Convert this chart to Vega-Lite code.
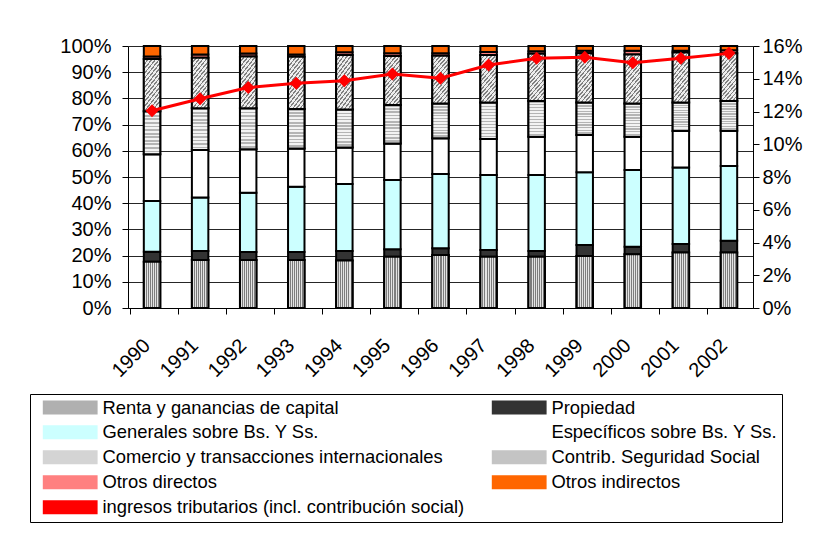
{
  "$schema": "https://vega.github.io/schema/vega-lite/v6.json",
  "width": 625,
  "height": 262,
  "autosize": {"type": "none"},
  "padding": {"left": 128, "top": 46, "right": 78, "bottom": 238},
  "background": "#ffffff",
  "config": {
    "font": "Liberation Sans",
    "view": {"stroke": null},
    "axis": {
      "labelFont": "Liberation Sans",
      "labelFontSize": 20,
      "labelColor": "#000000",
      "domainColor": "#000000",
      "tickColor": "#000000",
      "tickSize": 6,
      "title": null
    },
    "legend": {"symbolStrokeColor": "#000000", "symbolStrokeWidth": 2}
  },
  "datasets": {
    "barras": [
      {"anio": "1990", "serie": "Renta y ganancias de capital", "valor": 17.7},
      {"anio": "1990", "serie": "Propiedad", "valor": 3.8},
      {"anio": "1990", "serie": "Generales sobre Bs. Y Ss.", "valor": 19.3},
      {"anio": "1990", "serie": "Específicos sobre Bs. Y Ss.", "valor": 17.9},
      {"anio": "1990", "serie": "Comercio y transacciones internacionales", "valor": 16.4},
      {"anio": "1990", "serie": "Contrib. Seguridad Social", "valor": 19.9},
      {"anio": "1990", "serie": "Otros directos", "valor": 1.0},
      {"anio": "1990", "serie": "Otros indirectos", "valor": 4.0},
      {"anio": "1991", "serie": "Renta y ganancias de capital", "valor": 18.3},
      {"anio": "1991", "serie": "Propiedad", "valor": 3.5},
      {"anio": "1991", "serie": "Generales sobre Bs. Y Ss.", "valor": 20.4},
      {"anio": "1991", "serie": "Específicos sobre Bs. Y Ss.", "valor": 18.1},
      {"anio": "1991", "serie": "Comercio y transacciones internacionales", "valor": 15.9},
      {"anio": "1991", "serie": "Contrib. Seguridad Social", "valor": 19.3},
      {"anio": "1991", "serie": "Otros directos", "valor": 1.3},
      {"anio": "1991", "serie": "Otros indirectos", "valor": 3.2},
      {"anio": "1992", "serie": "Renta y ganancias de capital", "valor": 18.3},
      {"anio": "1992", "serie": "Propiedad", "valor": 3.1},
      {"anio": "1992", "serie": "Generales sobre Bs. Y Ss.", "valor": 22.6},
      {"anio": "1992", "serie": "Específicos sobre Bs. Y Ss.", "valor": 16.6},
      {"anio": "1992", "serie": "Comercio y transacciones internacionales", "valor": 15.6},
      {"anio": "1992", "serie": "Contrib. Seguridad Social", "valor": 19.8},
      {"anio": "1992", "serie": "Otros directos", "valor": 1.1},
      {"anio": "1992", "serie": "Otros indirectos", "valor": 2.9},
      {"anio": "1993", "serie": "Renta y ganancias de capital", "valor": 18.3},
      {"anio": "1993", "serie": "Propiedad", "valor": 3.1},
      {"anio": "1993", "serie": "Generales sobre Bs. Y Ss.", "valor": 24.9},
      {"anio": "1993", "serie": "Específicos sobre Bs. Y Ss.", "valor": 14.6},
      {"anio": "1993", "serie": "Comercio y transacciones internacionales", "valor": 15.1},
      {"anio": "1993", "serie": "Contrib. Seguridad Social", "valor": 19.9},
      {"anio": "1993", "serie": "Otros directos", "valor": 0.9},
      {"anio": "1993", "serie": "Otros indirectos", "valor": 3.2},
      {"anio": "1994", "serie": "Renta y ganancias de capital", "valor": 18.1},
      {"anio": "1994", "serie": "Propiedad", "valor": 3.7},
      {"anio": "1994", "serie": "Generales sobre Bs. Y Ss.", "valor": 25.5},
      {"anio": "1994", "serie": "Específicos sobre Bs. Y Ss.", "valor": 14.0},
      {"anio": "1994", "serie": "Comercio y transacciones internacionales", "valor": 14.5},
      {"anio": "1994", "serie": "Contrib. Seguridad Social", "valor": 20.8},
      {"anio": "1994", "serie": "Otros directos", "valor": 1.0},
      {"anio": "1994", "serie": "Otros indirectos", "valor": 2.4},
      {"anio": "1995", "serie": "Renta y ganancias de capital", "valor": 19.6},
      {"anio": "1995", "serie": "Propiedad", "valor": 2.8},
      {"anio": "1995", "serie": "Generales sobre Bs. Y Ss.", "valor": 26.5},
      {"anio": "1995", "serie": "Específicos sobre Bs. Y Ss.", "valor": 13.9},
      {"anio": "1995", "serie": "Comercio y transacciones internacionales", "valor": 14.7},
      {"anio": "1995", "serie": "Contrib. Seguridad Social", "valor": 18.7},
      {"anio": "1995", "serie": "Otros directos", "valor": 1.0},
      {"anio": "1995", "serie": "Otros indirectos", "valor": 2.8},
      {"anio": "1996", "serie": "Renta y ganancias de capital", "valor": 20.2},
      {"anio": "1996", "serie": "Propiedad", "valor": 2.6},
      {"anio": "1996", "serie": "Generales sobre Bs. Y Ss.", "valor": 28.3},
      {"anio": "1996", "serie": "Específicos sobre Bs. Y Ss.", "valor": 13.7},
      {"anio": "1996", "serie": "Comercio y transacciones internacionales", "valor": 13.3},
      {"anio": "1996", "serie": "Contrib. Seguridad Social", "valor": 18.2},
      {"anio": "1996", "serie": "Otros directos", "valor": 0.9},
      {"anio": "1996", "serie": "Otros indirectos", "valor": 2.8},
      {"anio": "1997", "serie": "Renta y ganancias de capital", "valor": 19.6},
      {"anio": "1997", "serie": "Propiedad", "valor": 2.5},
      {"anio": "1997", "serie": "Generales sobre Bs. Y Ss.", "valor": 28.7},
      {"anio": "1997", "serie": "Específicos sobre Bs. Y Ss.", "valor": 13.7},
      {"anio": "1997", "serie": "Comercio y transacciones internacionales", "valor": 13.9},
      {"anio": "1997", "serie": "Contrib. Seguridad Social", "valor": 18.2},
      {"anio": "1997", "serie": "Otros directos", "valor": 1.1},
      {"anio": "1997", "serie": "Otros indirectos", "valor": 2.3},
      {"anio": "1998", "serie": "Renta y ganancias de capital", "valor": 19.6},
      {"anio": "1998", "serie": "Propiedad", "valor": 2.2},
      {"anio": "1998", "serie": "Generales sobre Bs. Y Ss.", "valor": 29.0},
      {"anio": "1998", "serie": "Específicos sobre Bs. Y Ss.", "valor": 14.6},
      {"anio": "1998", "serie": "Comercio y transacciones internacionales", "valor": 13.6},
      {"anio": "1998", "serie": "Contrib. Seguridad Social", "valor": 18.0},
      {"anio": "1998", "serie": "Otros directos", "valor": 1.0},
      {"anio": "1998", "serie": "Otros indirectos", "valor": 2.0},
      {"anio": "1999", "serie": "Renta y ganancias de capital", "valor": 19.8},
      {"anio": "1999", "serie": "Propiedad", "valor": 4.2},
      {"anio": "1999", "serie": "Generales sobre Bs. Y Ss.", "valor": 27.8},
      {"anio": "1999", "serie": "Específicos sobre Bs. Y Ss.", "valor": 14.2},
      {"anio": "1999", "serie": "Comercio y transacciones internacionales", "valor": 12.4},
      {"anio": "1999", "serie": "Contrib. Seguridad Social", "valor": 18.8},
      {"anio": "1999", "serie": "Otros directos", "valor": 1.0},
      {"anio": "1999", "serie": "Otros indirectos", "valor": 1.8},
      {"anio": "2000", "serie": "Renta y ganancias de capital", "valor": 20.5},
      {"anio": "2000", "serie": "Propiedad", "valor": 2.9},
      {"anio": "2000", "serie": "Generales sobre Bs. Y Ss.", "valor": 29.3},
      {"anio": "2000", "serie": "Específicos sobre Bs. Y Ss.", "valor": 12.7},
      {"anio": "2000", "serie": "Comercio y transacciones internacionales", "valor": 12.7},
      {"anio": "2000", "serie": "Contrib. Seguridad Social", "valor": 18.7},
      {"anio": "2000", "serie": "Otros directos", "valor": 1.4},
      {"anio": "2000", "serie": "Otros indirectos", "valor": 1.8},
      {"anio": "2001", "serie": "Renta y ganancias de capital", "valor": 21.2},
      {"anio": "2001", "serie": "Propiedad", "valor": 3.2},
      {"anio": "2001", "serie": "Generales sobre Bs. Y Ss.", "valor": 29.2},
      {"anio": "2001", "serie": "Específicos sobre Bs. Y Ss.", "valor": 14.0},
      {"anio": "2001", "serie": "Comercio y transacciones internacionales", "valor": 10.8},
      {"anio": "2001", "serie": "Contrib. Seguridad Social", "valor": 19.1},
      {"anio": "2001", "serie": "Otros directos", "valor": 0.7},
      {"anio": "2001", "serie": "Otros indirectos", "valor": 1.8},
      {"anio": "2002", "serie": "Renta y ganancias de capital", "valor": 21.2},
      {"anio": "2002", "serie": "Propiedad", "valor": 4.5},
      {"anio": "2002", "serie": "Generales sobre Bs. Y Ss.", "valor": 28.5},
      {"anio": "2002", "serie": "Específicos sobre Bs. Y Ss.", "valor": 13.5},
      {"anio": "2002", "serie": "Comercio y transacciones internacionales", "valor": 11.3},
      {"anio": "2002", "serie": "Contrib. Seguridad Social", "valor": 18.2},
      {"anio": "2002", "serie": "Otros directos", "valor": 1.2},
      {"anio": "2002", "serie": "Otros indirectos", "valor": 1.6}
    ],
    "linea": [
      {"anio": "1990", "serie": "ingresos tributarios (incl. contribución social)", "tasa": 0.1205},
      {"anio": "1991", "serie": "ingresos tributarios (incl. contribución social)", "tasa": 0.1278},
      {"anio": "1992", "serie": "ingresos tributarios (incl. contribución social)", "tasa": 0.1346},
      {"anio": "1993", "serie": "ingresos tributarios (incl. contribución social)", "tasa": 0.1372},
      {"anio": "1994", "serie": "ingresos tributarios (incl. contribución social)", "tasa": 0.1388},
      {"anio": "1995", "serie": "ingresos tributarios (incl. contribución social)", "tasa": 0.1429},
      {"anio": "1996", "serie": "ingresos tributarios (incl. contribución social)", "tasa": 0.1403},
      {"anio": "1997", "serie": "ingresos tributarios (incl. contribución social)", "tasa": 0.1484},
      {"anio": "1998", "serie": "ingresos tributarios (incl. contribución social)", "tasa": 0.1525},
      {"anio": "1999", "serie": "ingresos tributarios (incl. contribución social)", "tasa": 0.1531},
      {"anio": "2000", "serie": "ingresos tributarios (incl. contribución social)", "tasa": 0.1498},
      {"anio": "2001", "serie": "ingresos tributarios (incl. contribución social)", "tasa": 0.1525},
      {"anio": "2002", "serie": "ingresos tributarios (incl. contribución social)", "tasa": 0.1555}
    ]
  },
  "layer": [
    {
      "data": {"name": "barras"},
      "transform": [
        {"calculate": "indexof(['Renta y ganancias de capital','Propiedad','Generales sobre Bs. Y Ss.','Específicos sobre Bs. Y Ss.','Comercio y transacciones internacionales','Contrib. Seguridad Social','Otros directos','Otros indirectos'], datum.serie)", "as": "orden"},
        {"stack": "valor", "groupby": ["anio"], "sort": [{"field": "orden", "order": "ascending"}], "offset": "normalize", "as": ["v0", "v1"]}
      ],
      "encoding": {
        "x": {
          "field": "anio",
          "type": "ordinal",
          "axis": {
            "labelAngle": -45,
            "bandPosition": 0,
            "grid": false,
            "labelPadding": 21,
            "labelOffset": -12
          }
        },
        "y": {
          "field": "v1",
          "type": "quantitative",
          "scale": {"domain": [0, 1], "nice": false},
          "axis": {
            "orient": "left",
            "format": ".0%",
            "values": [0, 0.1, 0.2, 0.3, 0.4, 0.5, 0.6, 0.7, 0.8, 0.9, 1],
            "grid": true,
            "gridColor": "#000000",
            "gridOpacity": 0.85,
            "gridWidth": 1,
            "labelPadding": 11
          }
        },
        "y2": {"field": "v0"}
      },
      "layer": [
        {
          "mark": {"type": "bar", "stroke": "#000000", "strokeWidth": 2, "width": {"band": 0.38}},
          "encoding": {
            "color": {
              "field": "serie",
              "type": "nominal",
              "scale": {
                "domain": [
                  "Renta y ganancias de capital",
                  "Propiedad",
                  "Generales sobre Bs. Y Ss.",
                  "Específicos sobre Bs. Y Ss.",
                  "Comercio y transacciones internacionales",
                  "Contrib. Seguridad Social",
                  "Otros directos",
                  "Otros indirectos",
                  "ingresos tributarios (incl. contribución social)"
                ],
                "range": ["#b0b0b0", "#333333", "#ccffff", "#ffffff", "#d4d4d4", "#c4c4c4", "#ff8080", "#ff6600", "#ff0000"]
              },
              "legend": {
                "title": null,
                "orient": "none",
                "direction": "horizontal",
                "legendX": -98,
                "legendY": 348,
                "columns": 2,
                "columnPadding": 18,
                "rowPadding": 4,
                "padding": 4,
                "symbolOffset": 27,
                "strokeColor": "#000000",
                "labelFont": "Liberation Sans",
                "labelFontSize": 18.4,
                "labelColor": "#000000",
                "labelLimit": 600,
                "labelOffset": 23,
                "symbolSize": 144,
                "symbolType": "M-4.4,-1H4.4V1H-4.4Z",
                "symbolStrokeColor": "#000000",
                "symbolStrokeWidth": 2,
                "symbolOpacity": 1,
                "encode": {
                  "symbols": {
                    "update": {
                      "stroke": {"value": "#000000"},
                      "strokeWidth": {"value": 2}
                    }
                  }
                }
              }
            }
          }
        },
        {
          "transform": [{"filter": "datum.serie === 'Renta y ganancias de capital'"}],
          "mark": {"type": "bar", "stroke": "#000000", "strokeWidth": 2, "width": {"band": 0.38},
            "color": {"gradient": "linear", "x1": 0, "y1": 0, "x2": 1, "y2": 0, "stops": [
              {"offset": 0, "color": "#7d7d7d"}, {"offset": 0.0625, "color": "#7d7d7d"}, {"offset": 0.0625, "color": "#e3e3e3"}, {"offset": 0.125, "color": "#e3e3e3"},
              {"offset": 0.125, "color": "#7d7d7d"}, {"offset": 0.1875, "color": "#7d7d7d"}, {"offset": 0.1875, "color": "#e3e3e3"}, {"offset": 0.25, "color": "#e3e3e3"},
              {"offset": 0.25, "color": "#7d7d7d"}, {"offset": 0.3125, "color": "#7d7d7d"}, {"offset": 0.3125, "color": "#e3e3e3"}, {"offset": 0.375, "color": "#e3e3e3"},
              {"offset": 0.375, "color": "#7d7d7d"}, {"offset": 0.4375, "color": "#7d7d7d"}, {"offset": 0.4375, "color": "#e3e3e3"}, {"offset": 0.5, "color": "#e3e3e3"},
              {"offset": 0.5, "color": "#7d7d7d"}, {"offset": 0.5625, "color": "#7d7d7d"}, {"offset": 0.5625, "color": "#e3e3e3"}, {"offset": 0.625, "color": "#e3e3e3"},
              {"offset": 0.625, "color": "#7d7d7d"}, {"offset": 0.6875, "color": "#7d7d7d"}, {"offset": 0.6875, "color": "#e3e3e3"}, {"offset": 0.75, "color": "#e3e3e3"},
              {"offset": 0.75, "color": "#7d7d7d"}, {"offset": 0.8125, "color": "#7d7d7d"}, {"offset": 0.8125, "color": "#e3e3e3"}, {"offset": 0.875, "color": "#e3e3e3"},
              {"offset": 0.875, "color": "#7d7d7d"}, {"offset": 0.9375, "color": "#7d7d7d"}, {"offset": 0.9375, "color": "#e3e3e3"}, {"offset": 1, "color": "#e3e3e3"}
            ]}
          }
        },
        {
          "transform": [{"filter": "datum.serie === 'Comercio y transacciones internacionales'"}],
          "mark": {"type": "bar", "stroke": "#000000", "strokeWidth": 2, "width": {"band": 0.38},
            "color": {"gradient": "linear", "x1": 0, "y1": 0, "x2": 0, "y2": 1, "stops": [
              {"offset": 0, "color": "#b4b4b4"}, {"offset": 0.0417, "color": "#b4b4b4"}, {"offset": 0.0417, "color": "#f3f3f3"}, {"offset": 0.0833, "color": "#f3f3f3"},
              {"offset": 0.0833, "color": "#b4b4b4"}, {"offset": 0.125, "color": "#b4b4b4"}, {"offset": 0.125, "color": "#f3f3f3"}, {"offset": 0.1667, "color": "#f3f3f3"},
              {"offset": 0.1667, "color": "#b4b4b4"}, {"offset": 0.2083, "color": "#b4b4b4"}, {"offset": 0.2083, "color": "#f3f3f3"}, {"offset": 0.25, "color": "#f3f3f3"},
              {"offset": 0.25, "color": "#b4b4b4"}, {"offset": 0.2917, "color": "#b4b4b4"}, {"offset": 0.2917, "color": "#f3f3f3"}, {"offset": 0.3333, "color": "#f3f3f3"},
              {"offset": 0.3333, "color": "#b4b4b4"}, {"offset": 0.375, "color": "#b4b4b4"}, {"offset": 0.375, "color": "#f3f3f3"}, {"offset": 0.4167, "color": "#f3f3f3"},
              {"offset": 0.4167, "color": "#b4b4b4"}, {"offset": 0.4583, "color": "#b4b4b4"}, {"offset": 0.4583, "color": "#f3f3f3"}, {"offset": 0.5, "color": "#f3f3f3"},
              {"offset": 0.5, "color": "#b4b4b4"}, {"offset": 0.5417, "color": "#b4b4b4"}, {"offset": 0.5417, "color": "#f3f3f3"}, {"offset": 0.5833, "color": "#f3f3f3"},
              {"offset": 0.5833, "color": "#b4b4b4"}, {"offset": 0.625, "color": "#b4b4b4"}, {"offset": 0.625, "color": "#f3f3f3"}, {"offset": 0.6667, "color": "#f3f3f3"},
              {"offset": 0.6667, "color": "#b4b4b4"}, {"offset": 0.7083, "color": "#b4b4b4"}, {"offset": 0.7083, "color": "#f3f3f3"}, {"offset": 0.75, "color": "#f3f3f3"},
              {"offset": 0.75, "color": "#b4b4b4"}, {"offset": 0.7917, "color": "#b4b4b4"}, {"offset": 0.7917, "color": "#f3f3f3"}, {"offset": 0.8333, "color": "#f3f3f3"},
              {"offset": 0.8333, "color": "#b4b4b4"}, {"offset": 0.875, "color": "#b4b4b4"}, {"offset": 0.875, "color": "#f3f3f3"}, {"offset": 0.9167, "color": "#f3f3f3"},
              {"offset": 0.9167, "color": "#b4b4b4"}, {"offset": 0.9583, "color": "#b4b4b4"}, {"offset": 0.9583, "color": "#f3f3f3"}, {"offset": 1, "color": "#f3f3f3"}
            ]}
          }
        },
        {
          "transform": [{"filter": "datum.serie === 'Contrib. Seguridad Social'"}],
          "mark": {"type": "bar", "stroke": "#000000", "strokeWidth": 2, "width": {"band": 0.38},
            "color": {"gradient": "linear", "x1": 0, "y1": 0, "x2": 0.5, "y2": 1.25, "stops": [
              {"offset": 0, "color": "#808080"}, {"offset": 0.025, "color": "#808080"}, {"offset": 0.025, "color": "#ededed"}, {"offset": 0.0625, "color": "#ededed"},
              {"offset": 0.0625, "color": "#808080"}, {"offset": 0.0875, "color": "#808080"}, {"offset": 0.0875, "color": "#ededed"}, {"offset": 0.125, "color": "#ededed"},
              {"offset": 0.125, "color": "#808080"}, {"offset": 0.15, "color": "#808080"}, {"offset": 0.15, "color": "#ededed"}, {"offset": 0.1875, "color": "#ededed"},
              {"offset": 0.1875, "color": "#808080"}, {"offset": 0.2125, "color": "#808080"}, {"offset": 0.2125, "color": "#ededed"}, {"offset": 0.25, "color": "#ededed"},
              {"offset": 0.25, "color": "#808080"}, {"offset": 0.275, "color": "#808080"}, {"offset": 0.275, "color": "#ededed"}, {"offset": 0.3125, "color": "#ededed"},
              {"offset": 0.3125, "color": "#808080"}, {"offset": 0.3375, "color": "#808080"}, {"offset": 0.3375, "color": "#ededed"}, {"offset": 0.375, "color": "#ededed"},
              {"offset": 0.375, "color": "#808080"}, {"offset": 0.4, "color": "#808080"}, {"offset": 0.4, "color": "#ededed"}, {"offset": 0.4375, "color": "#ededed"},
              {"offset": 0.4375, "color": "#808080"}, {"offset": 0.4625, "color": "#808080"}, {"offset": 0.4625, "color": "#ededed"}, {"offset": 0.5, "color": "#ededed"},
              {"offset": 0.5, "color": "#808080"}, {"offset": 0.525, "color": "#808080"}, {"offset": 0.525, "color": "#ededed"}, {"offset": 0.5625, "color": "#ededed"},
              {"offset": 0.5625, "color": "#808080"}, {"offset": 0.5875, "color": "#808080"}, {"offset": 0.5875, "color": "#ededed"}, {"offset": 0.625, "color": "#ededed"},
              {"offset": 0.625, "color": "#808080"}, {"offset": 0.65, "color": "#808080"}, {"offset": 0.65, "color": "#ededed"}, {"offset": 0.6875, "color": "#ededed"},
              {"offset": 0.6875, "color": "#808080"}, {"offset": 0.7125, "color": "#808080"}, {"offset": 0.7125, "color": "#ededed"}, {"offset": 0.75, "color": "#ededed"},
              {"offset": 0.75, "color": "#808080"}, {"offset": 0.775, "color": "#808080"}, {"offset": 0.775, "color": "#ededed"}, {"offset": 0.8125, "color": "#ededed"},
              {"offset": 0.8125, "color": "#808080"}, {"offset": 0.8375, "color": "#808080"}, {"offset": 0.8375, "color": "#ededed"}, {"offset": 0.875, "color": "#ededed"},
              {"offset": 0.875, "color": "#808080"}, {"offset": 0.9, "color": "#808080"}, {"offset": 0.9, "color": "#ededed"}, {"offset": 0.9375, "color": "#ededed"},
              {"offset": 0.9375, "color": "#808080"}, {"offset": 0.9625, "color": "#808080"}, {"offset": 0.9625, "color": "#ededed"}, {"offset": 1, "color": "#ededed"}
            ]}
          }
        }
      ]
    },
    {
      "data": {"name": "linea"},
      "mark": {
        "type": "line",
        "strokeWidth": 3,
        "point": {"shape": "diamond", "size": 170, "filled": true}
      },
      "encoding": {
        "x": {"field": "anio", "type": "ordinal"},
        "y": {
          "field": "tasa",
          "type": "quantitative",
          "scale": {"domain": [0, 0.16], "nice": false},
          "axis": {
            "orient": "right",
            "format": ".0%",
            "values": [0, 0.02, 0.04, 0.06, 0.08, 0.1, 0.12, 0.14, 0.16],
            "grid": false,
            "labelPadding": 3
          }
        },
        "color": {"field": "serie", "type": "nominal"}
      }
    }
  ],
  "resolve": {"scale": {"y": "independent"}}
}
